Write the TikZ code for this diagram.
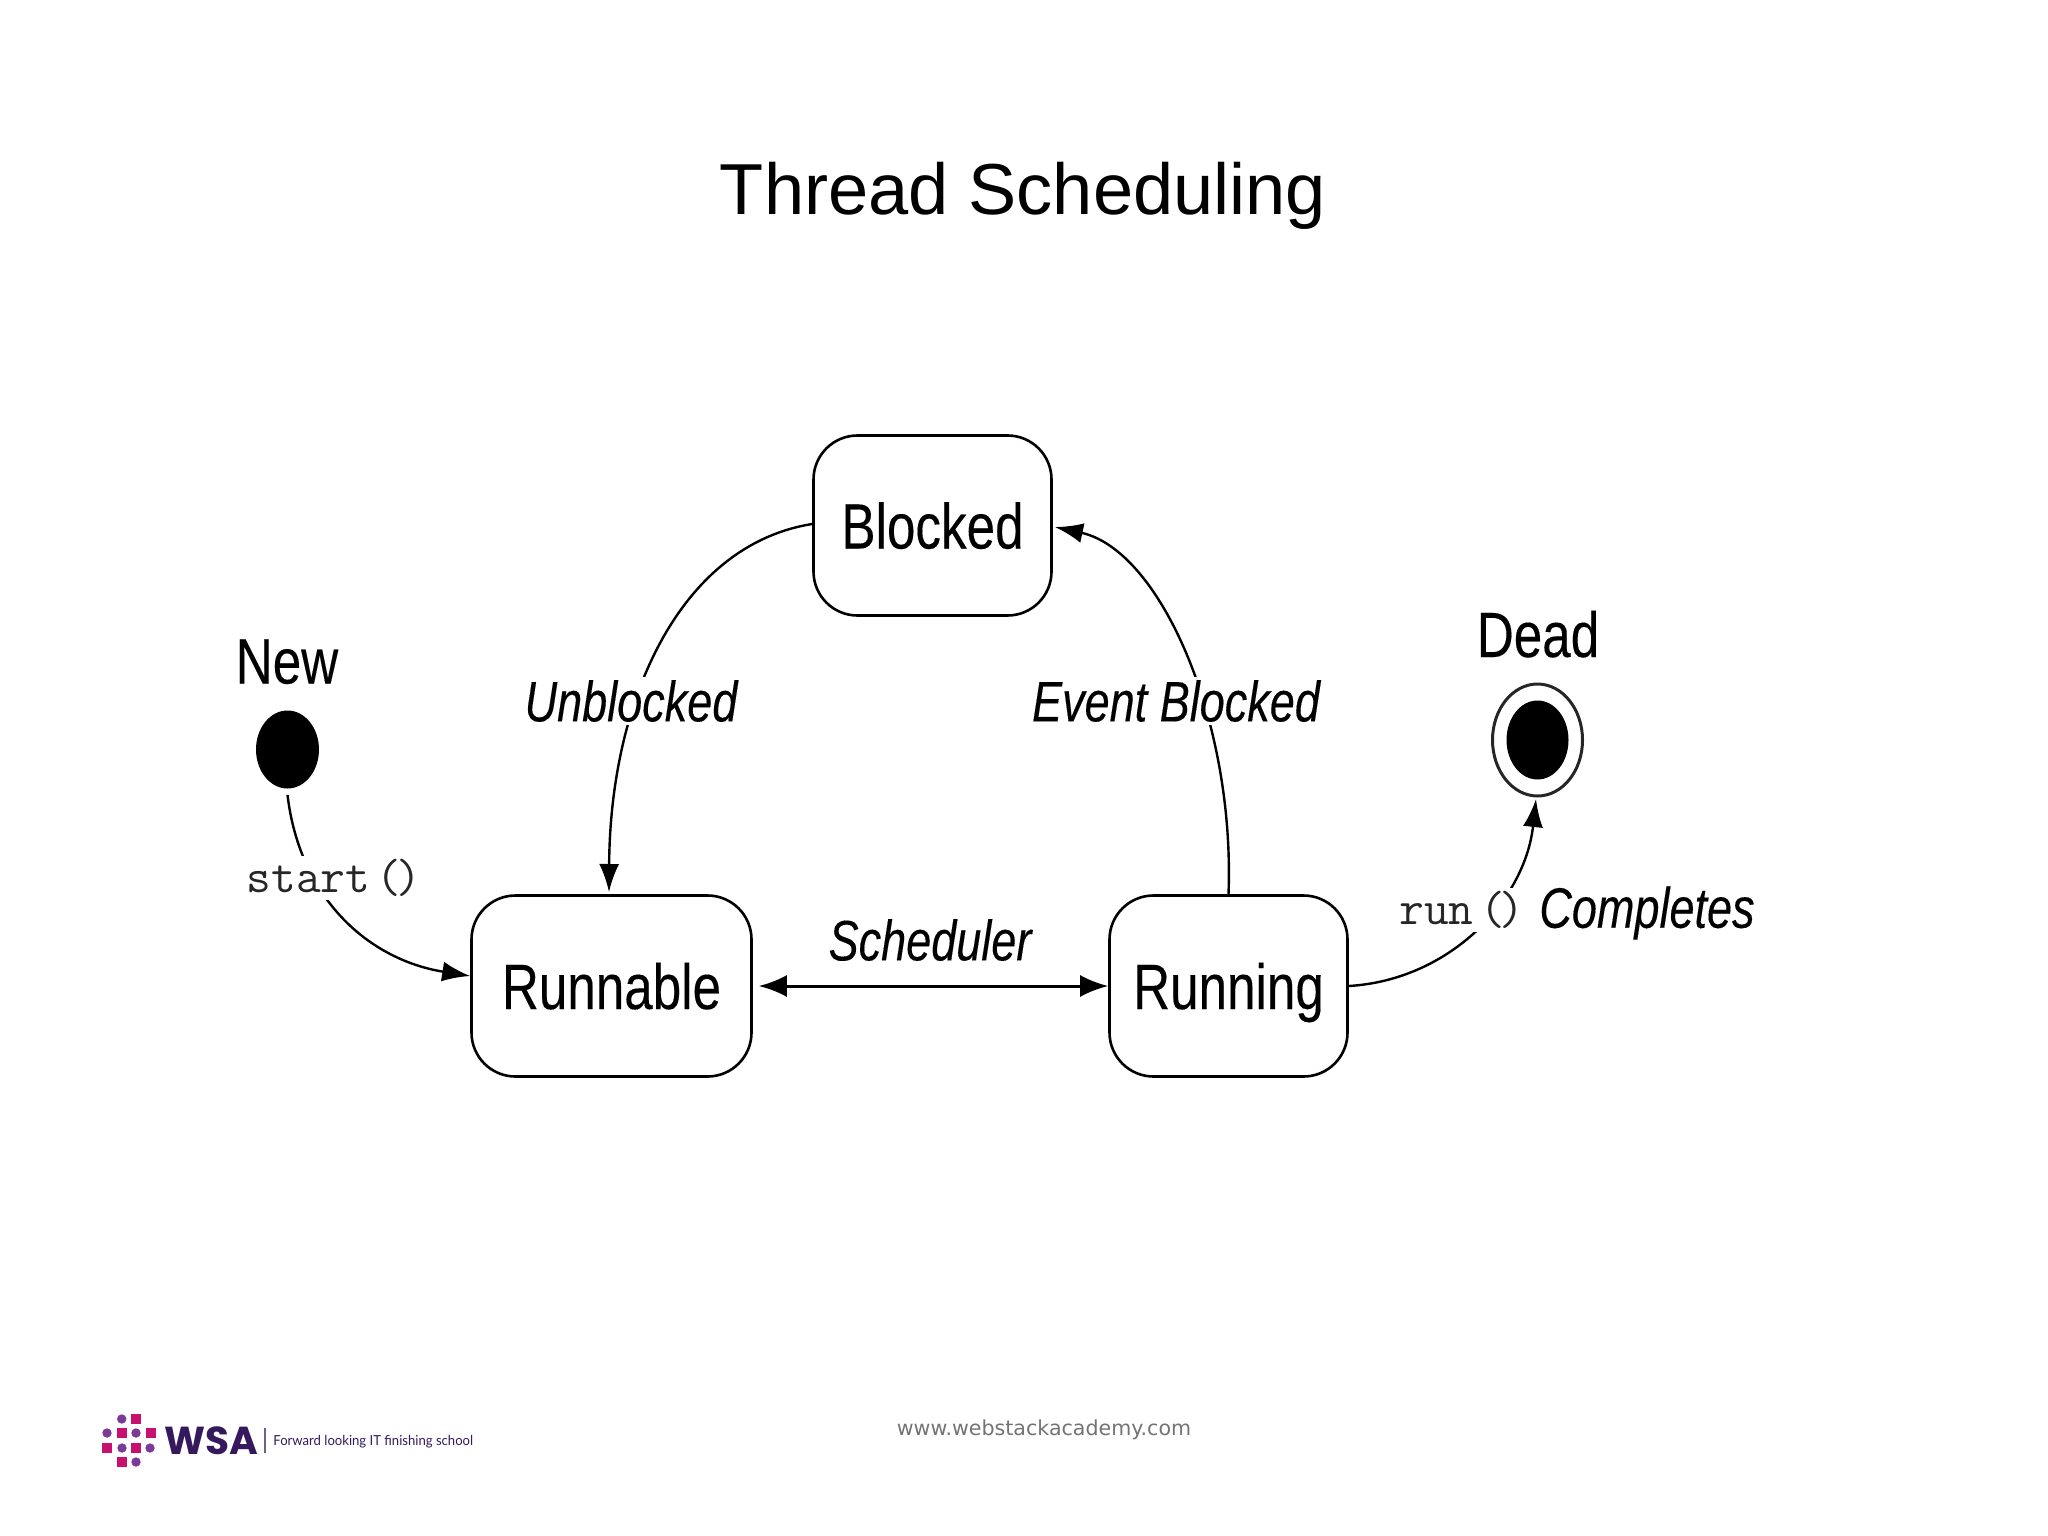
\documentclass[tikz,border=0pt]{standalone}
\usepackage{fontspec}
\usetikzlibrary{arrows.meta,shapes.geometric}
\setmainfont{Liberation Sans}
\newfontfamily\diagfont[FakeStretch=0.80,FakeBold=0.2]{Liberation Sans}
\newfontfamily\edgefont[FakeStretch=0.79,FakeBold=0.2]{Liberation Sans}
\newfontfamily\urlfont{DejaVu Sans}
\newfontfamily\logofont{Poppins}
\newfontfamily\tagfont[FakeStretch=0.95]{Lato}
\definecolor{wsapink}{HTML}{C8106E}
\definecolor{wsapurple}{HTML}{7B3A96}
\definecolor{wsadark}{HTML}{35195C}
\tikzset{
  statebox/.style={draw=black,line width=1.3pt,rounded corners=22pt,inner sep=0pt,
    font=\diagfont\fontsize{32}{32}\selectfont,text height=23pt,text depth=0pt},
  statename/.style={inner sep=0pt,font=\diagfont\fontsize{32}{32}\selectfont,text height=23pt,text depth=0pt},
  dot/.style={ellipse,fill=black,inner sep=0pt},
  conn/.style={draw=black,line width=1.2pt,-{Latex[length=14pt,width=10pt]}},
  edgelabel/.style={fill=white,inner sep=1.5pt,font=\edgefont\itshape\fontsize{28.5}{29}\selectfont},
  codelabel/.style={fill=white,inner sep=1.5pt,text=black!85,font=\ttfamily\fontsize{24}{24}\selectfont},
}
\begin{document}
\begin{tikzpicture}[x=0.5pt,y=-0.5pt]
\useasboundingbox (0,0) rectangle (2048,1535);
\node[inner sep=0pt,font=\fontsize{36.1}{36}\selectfont] (title) at (1023,196) {Thread Scheduling};

\node[statebox,minimum width=119pt,minimum height=90pt] (blocked) at (932.5,525.5) {Blocked};
\node[statebox,minimum width=140pt,minimum height=90.5pt] (runnable) at (611.5,986) {Runnable};
\node[statebox,minimum width=119pt,minimum height=90.5pt] (running) at (1228.5,986) {Running};

\node[dot,minimum width=31.5pt,minimum height=39pt] (new) at (287.5,749.5) {};
\node[statename] (newname) at (287,660.5) {New};
\node[ellipse,draw=black!85,line width=1.5pt,inner sep=0pt,minimum width=45pt,minimum height=56pt] (deadring) at (1537.5,740) {};
\node[dot,minimum width=31pt,minimum height=39.5pt] (deadcore) at (1537.5,740) {};
\node[statename] (deadname) at (1538,634) {Dead};

\coordinate (newout) at ([yshift=-3pt]new.south);
\coordinate (runin) at (runnable.west |- 0,976);
\coordinate (blockout) at (blocked.west |- 0,524);
\coordinate (blockin) at (1055,527);
\coordinate (deadin) at (1536,799);
\coordinate (runnerout) at (running.north);
\coordinate (unblockin) at (609,892);

\draw[conn] (newout) .. controls (300,900) and (370,960) .. (runin);
\draw[conn] (blockout) .. controls (680,545) and (610,700) .. (unblockin);
\draw[conn] (runnerout) .. controls (1235,720) and (1160,550) .. (blockin);
\draw[conn] (running.east) .. controls (1450,980) and (1525,900) .. (deadin);
\draw[draw=black,line width=1.5pt,{Latex[length=14pt,width=11pt]}-{Latex[length=14pt,width=11pt]},shorten <=3pt] (runnable.east) -- (running.west);

\node[edgelabel] (unblocked) at (631,701) {Unblocked};
\node[edgelabel] (eventblocked) at (1176,701) {Event Blocked};
\node[edgelabel,fill=none] (scheduler) at (930,940) {Scheduler};
\node[edgelabel,fill=none] (completes) at (1647,913) {Completes};
\node[codelabel] (start) at (334,878) {start\hspace{-9pt} (\hspace{-2.5pt})};
\node[codelabel] (run) at (1462,910) {run\hspace{-9pt} (\hspace{-2.5pt})};

\foreach \p in {(121.7,1419),(107,1433),(136,1433),(122,1448),(150,1448),(136,1462)}
  \fill[wsapurple] \p circle (4.7);
\foreach \p in {(136.3,1419),(122,1433),(151,1433),(107,1448),(136,1448),(122,1462)}
  \fill[wsapink] \p ++(-5,-5) rectangle ++(10,10);
\node[inner sep=0pt,text=wsadark,font=\logofont\bfseries\fontsize{19.5}{20}\selectfont] (wsa) at (211,1441) {WSA};
\draw[wsadark!70,line width=0.6pt] (265,1428) -- (265,1453);
\node[inner sep=0pt,anchor=west,text=wsadark,font=\tagfont\fontsize{6.9}{8}\selectfont] (tag) at (273,1442) {Forward looking IT finishing school};
\node[inner sep=0pt,text=black!55,font=\urlfont\fontsize{10.3}{11}\selectfont] (url) at (1044,1430) {www.webstackacademy.com};
\end{tikzpicture}
\end{document}
